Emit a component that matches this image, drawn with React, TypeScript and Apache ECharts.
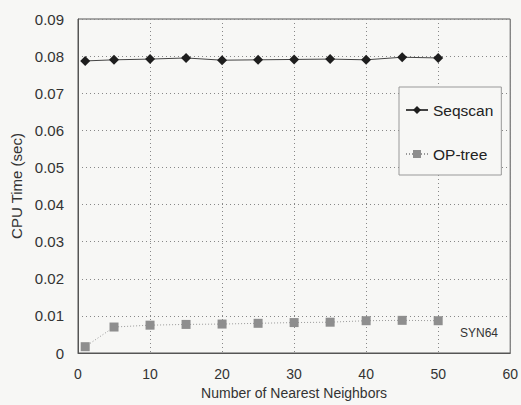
import React, { useEffect, useRef } from "react";
import * as echarts from "echarts";

const kValues = [1, 5, 10, 15, 20, 25, 30, 35, 40, 45, 50];
const seqscan = [0.0787, 0.079, 0.0792, 0.0795, 0.0789, 0.079, 0.0791, 0.0792, 0.079, 0.0797, 0.0795];
const opTree = [0.0017, 0.007, 0.0075, 0.0077, 0.0078, 0.008, 0.0082, 0.0083, 0.0087, 0.0088, 0.0087];
const seriesNames = ["Seqscan", "OP-tree"];
const datasetLabel = "SYN64";

const FONT = "'Liberation Sans', Arial, Helvetica, sans-serif";

export default function App() {
  const ref = useRef<HTMLDivElement>(null);
  useEffect(() => {
    if (!ref.current) return;
    const chart = echarts.init(ref.current, null, { renderer: "svg" });
    chart.setOption({
      animation: false,
      backgroundColor: "#f7f7f5",
      textStyle: { fontFamily: FONT },
      grid: {
        left: 78,
        right: 9,
        top: 19,
        bottom: 52,
        show: true,
        borderColor: "#555",
        borderWidth: 1,
        backgroundColor: "transparent",
      },
      legend: {
        orient: "vertical",
        left: 399,
        top: 87,
        padding: [15, 8, 13, 6],
        itemGap: 28,
        itemWidth: 22,
        itemHeight: 10,
        borderColor: "#999",
        borderWidth: 1,
        backgroundColor: "#f7f7f5",
        textStyle: { fontSize: 15.5, color: "#222", fontFamily: FONT },
        data: seriesNames,
      },
      xAxis: {
        type: "value",
        min: 0,
        max: 60,
        interval: 10,
        name: "Number of Nearest Neighbors",
        nameLocation: "middle",
        nameGap: 33,
        nameTextStyle: { fontSize: 14, color: "#333", fontFamily: FONT },
        axisLine: { lineStyle: { color: "#555" } },
        axisTick: { show: false },
        axisLabel: { fontSize: 14, color: "#333", margin: 14, fontFamily: FONT },
        splitLine: { show: true, lineStyle: { color: "#888", type: [1, 3], width: 1 } },
      },
      yAxis: {
        type: "value",
        min: 0,
        max: 0.09,
        interval: 0.01,
        name: "CPU Time (sec)",
        nameLocation: "middle",
        nameGap: 50,
        nameTextStyle: { fontSize: 15, color: "#333", fontFamily: FONT },
        axisLine: { show: true, lineStyle: { color: "#555" } },
        axisTick: { show: false },
        axisLabel: {
          fontSize: 15,
          color: "#333",
          margin: 14,
          fontFamily: FONT,
          formatter: (v: number) => (v === 0 ? "0" : v.toFixed(2)),
        },
        splitLine: { show: true, lineStyle: { color: "#888", type: [1, 3], width: 1 } },
      },
      series: [
        {
          name: seriesNames[0],
          type: "line",
          data: kValues.map((k, i) => [k, seqscan[i]]),
          symbol: "diamond",
          symbolSize: 10,
          itemStyle: { color: "#1e1e1e" },
          lineStyle: { color: "#444", width: 1 },
        },
        {
          name: seriesNames[1],
          type: "line",
          data: kValues.map((k, i) => [k, opTree[i]]),
          symbol: "rect",
          symbolSize: 9,
          itemStyle: { color: "#8e8e8e" },
          lineStyle: { color: "#999", width: 1, type: [1, 2] },
        },
      ],
      graphic: [
        {
          type: "text",
          left: 460,
          top: 327,
          style: { text: datasetLabel, fontSize: 12, fill: "#333", fontFamily: FONT },
        },
      ],
    });
    return () => chart.dispose();
  }, []);
  return (
    <div
      ref={ref}
      style={{ position: "absolute", left: 0, top: 0, width: 521, height: 405 }}
    />
  );
}
